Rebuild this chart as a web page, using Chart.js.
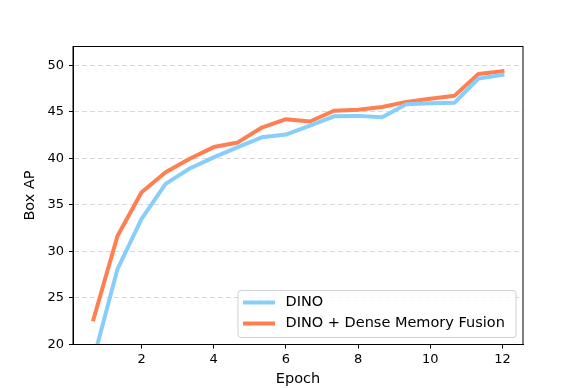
<!DOCTYPE html>
<html>
<head>
<meta charset="utf-8">
<script src="https://cdn.jsdelivr.net/npm/chart.js@4.4.1/dist/chart.umd.min.js"></script>
<style>
  html, body { margin: 0; padding: 0; background: #fff; }
  canvas { display: block; }
</style>
</head>
<body>
<canvas id="myLineChart" width="581" height="388"></canvas>
<script>
// -- data
var epochs = [0.667, 1.333, 2, 2.667, 3.333, 4, 4.667, 5.333, 6, 6.667, 7.333, 8, 8.667, 9.333, 10, 10.667, 11.333, 12];
var dinoAP = [18.4, 28.1, 33.5, 37.25, 38.9, 40.1, 41.2, 42.25, 42.55, 43.5, 44.5, 44.55, 44.4, 45.8, 45.9, 45.95, 48.55, 48.95];
var fusionAP = [22.7, 31.65, 36.35, 38.5, 39.95, 41.2, 41.7, 43.3, 44.2, 43.95, 45.1, 45.2, 45.5, 46.05, 46.4, 46.7, 49.05, 49.35];
var xTicks = [2, 4, 6, 8, 10, 12];
var yTicks = [20, 25, 30, 35, 40, 45, 50];
var seriesLabels = ['DINO', 'DINO + Dense Memory Fusion'];

var blue = '#87cefa';
var orange = '#ff7f50';
var font = 'DejaVu Sans';

function toPoints(ys) {
  return ys.map(function (y, i) { return { x: epochs[i], y: y }; });
}

// draws the top/right spines and the legend box in the lower right
var framePlugin = {
  id: 'frame',
  afterDraw: function (chart) {
    var ctx = chart.ctx;
    var a = chart.chartArea;
    ctx.save();
    ctx.strokeStyle = '#000';
    ctx.lineWidth = 1;
    ctx.strokeRect(a.left, a.top, a.right - a.left, a.bottom - a.top);

    var w = 278, h = 47;
    var bx = a.right - 7 - w, by = a.bottom - 7 - h;
    ctx.beginPath();
    ctx.roundRect(bx, by, w, h, 3);
    ctx.fillStyle = 'rgba(255,255,255,0.8)';
    ctx.fill();
    ctx.strokeStyle = '#d0d0d0';
    ctx.lineWidth = 1;
    ctx.stroke();

    ctx.font = '14.5px "' + font + '"';
    ctx.textBaseline = 'middle';
    ctx.fillStyle = '#000';
    chart.data.datasets.forEach(function (ds, i) {
      var y = by + 12 + i * 21;
      ctx.beginPath();
      ctx.moveTo(bx + 5, y);
      ctx.lineTo(bx + 37, y);
      ctx.strokeStyle = ds.borderColor;
      ctx.lineWidth = 4;
      ctx.stroke();
      ctx.fillText(ds.label, bx + 47.5, y);
    });
    ctx.restore();
  }
};

var ctx = document.getElementById('myLineChart');

var myLineChart = new Chart(ctx, {
  type: 'line',
  data: {
    datasets: [{
      label: seriesLabels[0],
      data: toPoints(dinoAP),
      borderColor: blue,
      backgroundColor: blue,
      borderWidth: 4,
    }, {
      label: seriesLabels[1],
      data: toPoints(fusionAP),
      borderColor: orange,
      backgroundColor: orange,
      borderWidth: 4,
    }],
  },
  options: {
    responsive: false,
    animation: false,
    events: [],
    clip: 0,
    elements: {
      point: { radius: 0 },
      line: { tension: 0, borderJoinStyle: 'round', borderCapStyle: 'square' }
    },
    layout: { padding: { left: 0, top: 46.5, right: 58, bottom: 0 } },
    plugins: {
      legend: { display: false },
      tooltip: { enabled: false }
    },
    scales: {
      x: {
        type: 'linear',
        min: 0.1,
        max: 12.57,
        afterFit: function (scale) { scale.height = 43.5; },
        afterBuildTicks: function (scale) {
          scale.ticks = xTicks.map(function (v) { return { value: v }; });
        },
        grid: {
          drawOnChartArea: false,
          drawTicks: true,
          tickLength: 4,
          tickColor: '#000',
          tickWidth: 1
        },
        border: { display: true, color: '#000', width: 1 },
        ticks: {
          color: '#000',
          padding: 3,
          maxRotation: 0,
          font: { family: font, size: 13 }
        },
        title: {
          display: true,
          text: 'Epoch',
          color: '#000',
          padding: { top: 0, bottom: 0 },
          font: { family: font, size: 14.5 }
        }
      },
      y: {
        min: 20,
        max: 52,
        afterFit: function (scale) { scale.width = 73; },
        afterBuildTicks: function (scale) {
          scale.ticks = yTicks.map(function (v) { return { value: v }; });
        },
        grid: {
          color: '#d9d9d9',
          lineWidth: 1,
          drawTicks: true,
          tickLength: 4,
          tickColor: '#000',
          tickWidth: 1,
          tickBorderDash: []
        },
        border: { display: true, color: '#000', width: 1, dash: [5, 3] },
        ticks: {
          color: '#000',
          padding: 5,
          font: { family: font, size: 13 }
        },
        title: {
          display: true,
          text: 'Box AP',
          color: '#000',
          padding: { top: 22, bottom: 0 },
          font: { family: font, size: 14.5 }
        }
      }
    }
  },
  plugins: [framePlugin]
});
</script>
</body>
</html>
